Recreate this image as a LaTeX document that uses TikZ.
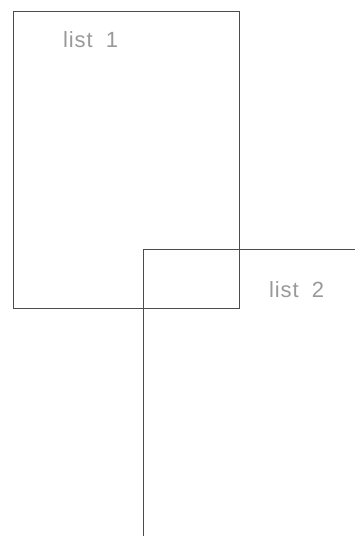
\documentclass[tikz,border=0pt]{standalone}
\usepackage{fontspec}
\setmainfont{Liberation Sans}
\begin{document}
\begin{tikzpicture}[x=1pt,y=-1pt,
  frame/.style={draw=black!70,line width=0.6pt},
  lbl/.style={text=black!40,font=\fontsize{22}{22}\selectfont\addfontfeature{LetterSpace=4},inner sep=0pt,anchor=west}]
\useasboundingbox (0,0) rectangle (355,536);
\coordinate (r1a) at (13,11);
\coordinate (r1b) at (239,308);
\draw[frame] (r1a) rectangle (r1b);
\coordinate (r2top) at (143,249);
\coordinate (r2right) at (355,249);
\coordinate (r2bot) at (143,536);
\draw[frame] (r2right) -- (r2top) -- (r2bot);
\node[lbl] (l1) at (63,40) {list\hspace{0.6em}1};
\node[lbl] (l2) at (269,290) {list\hspace{0.6em}2};
\end{tikzpicture}
\end{document}
